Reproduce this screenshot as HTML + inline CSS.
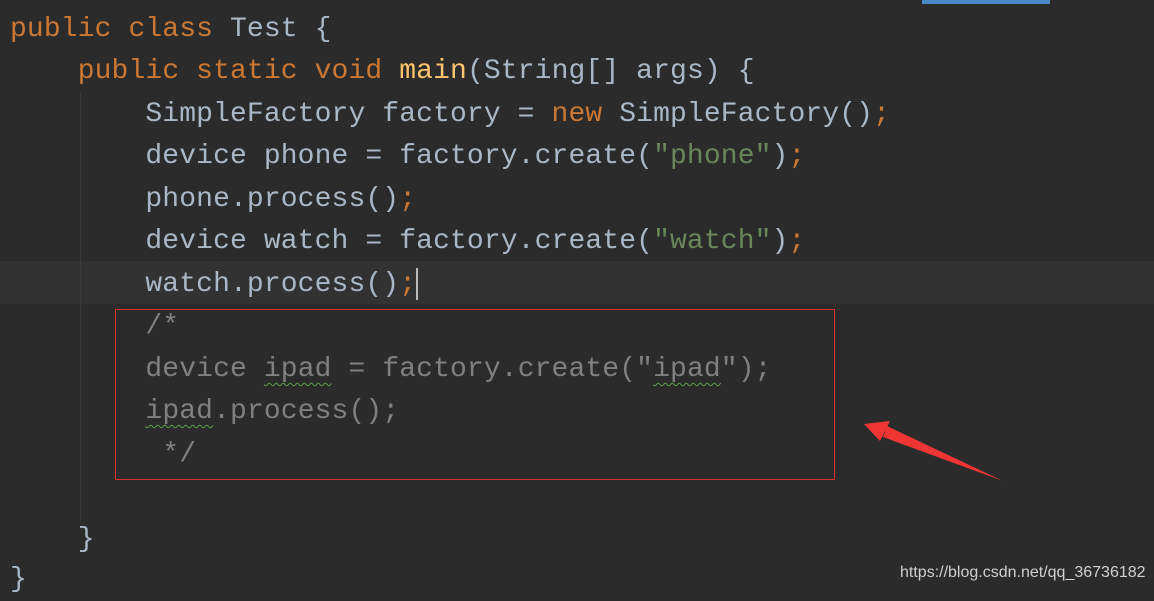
<!DOCTYPE html>
<html><head><meta charset="utf-8"><style>
body{margin:0;width:1154px;height:594px;background:#2b2b2b;overflow:hidden;position:relative}
.l{position:absolute;left:10px;height:42px;line-height:42px;font-family:"Liberation Mono","DejaVu Sans Mono",monospace;font-size:28px;color:#a9b7c6;white-space:pre;letter-spacing:0.12px}
.k{color:#cc7832}.m{color:#ffc66d}.s{color:#6a8759}.c{color:#808080}
.w{text-decoration:underline wavy #5f9e4a;text-decoration-thickness:1px;text-underline-offset:6px}
</style></head><body>
<div style="position:absolute;left:0;top:261px;width:1154px;height:43px;background:#323232"></div>
<div style="position:absolute;left:922px;top:0;width:128px;height:4px;background:#4a88c7"></div>
<div style="position:absolute;left:80px;top:92px;width:1px;height:430px;background:#3a3a3a"></div>
<div class="l" style="top:9px"><span class="k">public class </span>Test {</div>
<div class="l" style="top:51px">    <span class="k">public static void </span><span class="m">main</span>(String[] args) {</div>
<div class="l" style="top:94px">        SimpleFactory factory = <span class="k">new </span>SimpleFactory()<span class="k">;</span></div>
<div class="l" style="top:136px">        device phone = factory.create(<span class="s">"phone"</span>)<span class="k">;</span></div>
<div class="l" style="top:179px">        phone.process()<span class="k">;</span></div>
<div class="l" style="top:221px">        device watch = factory.create(<span class="s">"watch"</span>)<span class="k">;</span></div>
<div class="l" style="top:264px">        watch.process()<span class="k">;</span></div>
<div style="position:absolute;left:416px;top:268px;width:2px;height:32px;background:#bbb"></div>
<div class="l c" style="top:306px">        /*</div>
<div class="l c" style="top:349px">        device <span class="w">ipad</span> = factory.create("<span class="w">ipad</span>");</div>
<div class="l c" style="top:391px">        <span class="w">ipad</span>.process();</div>
<div class="l c" style="top:434px">         */</div>
<div class="l" style="top:519px">    }</div>
<div class="l" style="top:559px">}</div>
<div style="position:absolute;left:115px;top:309px;width:718px;height:169px;border:1px solid #e03030"></div>
<svg style="position:absolute;left:0;top:0" width="1154" height="594">
<polygon points="1003,481 887,426 883,437" fill="#f03535"/>
<polygon points="864,424 890,421 880,441" fill="#f03535"/>
</svg>
<div style="position:absolute;left:900px;top:564px;font-family:'Liberation Sans',sans-serif;font-size:16px;color:#d0d0d0">https://blog.csdn.net/qq_36736182</div>
</body></html>
